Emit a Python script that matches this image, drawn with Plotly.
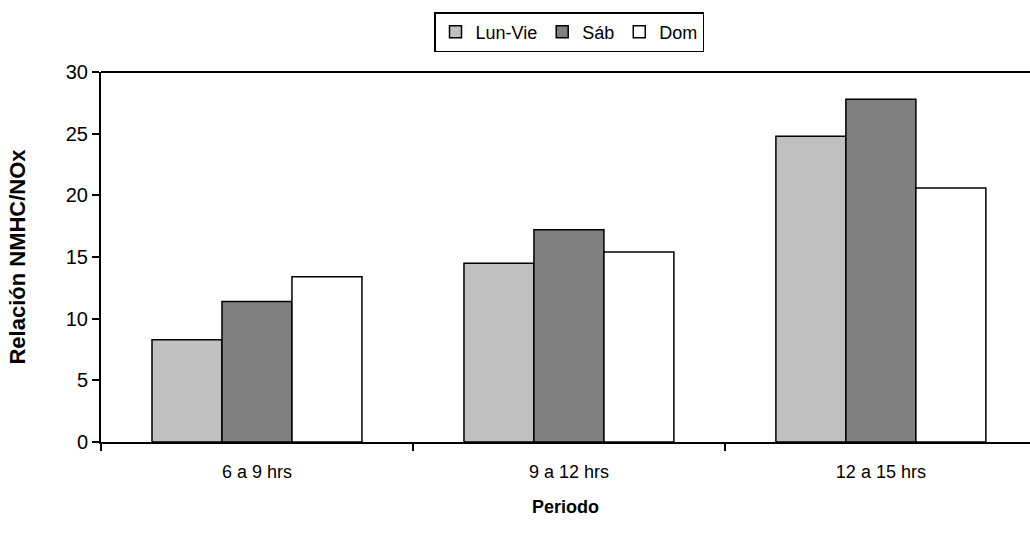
import plotly.graph_objects as go

# Periods and NMHC/NOx ratio by day type
periodos = ["6 a 9 hrs", "9 a 12 hrs", "12 a 15 hrs"]
lun_vie = [8.3, 14.5, 24.8]
sab = [11.4, 17.2, 27.8]
dom = [13.4, 15.4, 20.6]

series = [
    ("Lun-Vie", lun_vie, "#c0c0c0"),
    ("Sáb", sab, "#808080"),
    ("Dom", dom, "#ffffff"),
]

FONT = "Liberation Sans, Arial, sans-serif"

fig = go.Figure()
for nombre, valores, color in series:
    fig.add_trace(go.Bar(
        name=nombre,
        x=periodos,
        y=valores,
        marker=dict(color=color, line=dict(color="#000000", width=1.5)),
    ))

fig.update_layout(
    width=1030,
    height=544,
    margin=dict(l=101, r=0, t=72, b=102),
    paper_bgcolor="white",
    plot_bgcolor="white",
    barmode="group",
    bargap=0.327,
    bargroupgap=0,
    font=dict(family=FONT, size=18, color="#000000"),
    showlegend=True,
    legend=dict(
        orientation="h",
        xref="container", yref="container",
        x=569 / 1030, xanchor="center",
        y=1 - 12 / 544, yanchor="top",
        bordercolor="#000000", borderwidth=1.5,
        bgcolor="white",
        font=dict(family=FONT, size=18),
        traceorder="normal",
        itemwidth=30,
    ),
    xaxis=dict(
        range=[-0.5, 2.478],
        showline=True, linecolor="#000000", linewidth=2,
        ticks="outside", tickson="boundaries", ticklen=7, tickwidth=1.5,
        tickcolor="#000000",
        showgrid=False, zeroline=False,
        tickfont=dict(family=FONT, size=18),
        ticklabelstandoff=12,
        title=dict(text="<b>Periodo</b>", font=dict(family=FONT, size=18), standoff=20),
    ),
    yaxis=dict(
        range=[0, 30], dtick=5,
        showline=True, linecolor="#000000", linewidth=2,
        ticks="outside", ticklen=7, tickwidth=1.5, tickcolor="#000000",
        showgrid=False, zeroline=False,
        tickfont=dict(family=FONT, size=20),
        title=dict(text="<b>Relación NMHC/NOx</b>", font=dict(family=FONT, size=22), standoff=34),
    ),
    shapes=[
        dict(type="line", xref="paper", yref="paper", x0=0, x1=1, y0=1, y1=1,
             line=dict(color="#000000", width=2)),
    ],
)

fig.write_html("out.html")
